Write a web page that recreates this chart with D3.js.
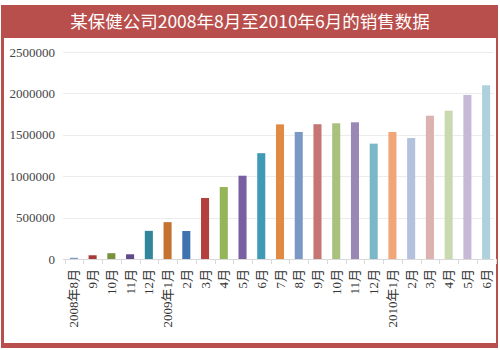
<!DOCTYPE html>
<html>
<head>
<meta charset="utf-8">
<script src="https://cdn.jsdelivr.net/npm/d3@7"></script>
<style>
  html, body { margin: 0; padding: 0; background: #fff; }
  svg { display: block; }
</style>
</head>
<body>
<svg id="chart" width="500" height="350"></svg>
<script>
const title = "某保健公司2008年8月至2010年6月的销售数据";
const categories = ["2008年8月","9月","10月","11月","12月","2009年1月","2月","3月","4月","5月","6月","7月","8月","9月","10月","11月","12月","2010年1月","2月","3月","4月","5月","6月"];
const sales = [15000,45000,70000,57000,340000,445000,338000,737000,869000,1006000,1278000,1626000,1534000,1628000,1639000,1651000,1393000,1534000,1461000,1731000,1791000,1981000,2098000];
const barColors = ["#7f9cc8","#a83a3a","#77923c","#5f4a8b","#31859c","#c4732f","#3f72af","#b3403e","#94b558","#7a5ea2","#3f9ab6","#e08a44","#7b97c6","#c47574","#a8c27d","#9988b4","#7cb7c8","#f2a677","#b3c1dd","#dcb2b1","#c9dab0","#c5b9d6","#aed1dd"];
const yTicks = [0,500000,1000000,1500000,2000000,2500000];

const serifFont = "'Liberation Serif', 'Noto Sans CJK SC', serif";
const svg = d3.select("#chart");
const frameColor = "#b94f4c";

// frame
svg.append("rect").attr("x",1).attr("y",5).attr("width",497).attr("height",343).attr("fill",frameColor);
svg.append("rect").attr("x",4).attr("y",38).attr("width",492).attr("height",305).attr("fill","#fff");

svg.append("text").attr("x",250).attr("y",28).attr("text-anchor","middle")
  .attr("fill","#fff").style("font-family","'Noto Sans CJK SC','Noto Sans',sans-serif")
  .attr("font-size",17.5).text(title);

const x = d3.scaleBand().domain(d3.range(categories.length)).range([64.6,495.4]).paddingInner(0.57).paddingOuter(0.28);
const y = d3.scaleLinear().domain([0,2500000]).range([259,52]);

// gridlines
svg.append("g").selectAll("line").data(yTicks.slice(1)).join("line")
  .attr("x1",63).attr("x2",494).attr("y1",d=>Math.round(y(d))+0.5).attr("y2",d=>Math.round(y(d))+0.5)
  .attr("stroke","#ececec").attr("stroke-width",1);

// y axis labels
svg.append("g").selectAll("text").data(yTicks).join("text")
  .attr("x",55).attr("y",d=>y(d)).attr("dy","0.35em")
  .attr("text-anchor","end")
  .style("font-family",serifFont).style("font-size","13px").attr("fill","#444")
  .text(d=>d3.format("d")(d));

// bars
svg.append("g").selectAll("rect").data(sales).join("rect")
  .attr("x",(d,i)=>x(i)).attr("width",x.bandwidth())
  .attr("y",d=>y(d)).attr("height",d=>y(0)-y(d))
  .attr("fill",(d,i)=>barColors[i]);

// x axis baseline and ticks
const step = x.step();
const x0 = x.range()[0];
svg.append("line").attr("x1",63).attr("x2",494).attr("y1",y(0)+0.5).attr("y2",y(0)+0.5)
  .attr("stroke","#d9d9d9");
svg.append("g").selectAll("line").data(d3.range(categories.length+1)).join("line")
  .attr("x1",i=>Math.round(x0+i*step)+0.5).attr("x2",i=>Math.round(x0+i*step)+0.5)
  .attr("y1",y(0)).attr("y2",y(0)+5).attr("stroke","#d9d9d9");

// x labels
svg.append("g").selectAll("text").data(categories).join("text")
  .attr("transform",(d,i)=>`translate(${x(i)+x.bandwidth()/2+4.5},${y(0)+10}) rotate(-90)`)
  .attr("text-anchor","end")
  .style("font-family",serifFont).style("font-size","13px").attr("fill","#333")
  .text(d=>d);
</script>
</body>
</html>
